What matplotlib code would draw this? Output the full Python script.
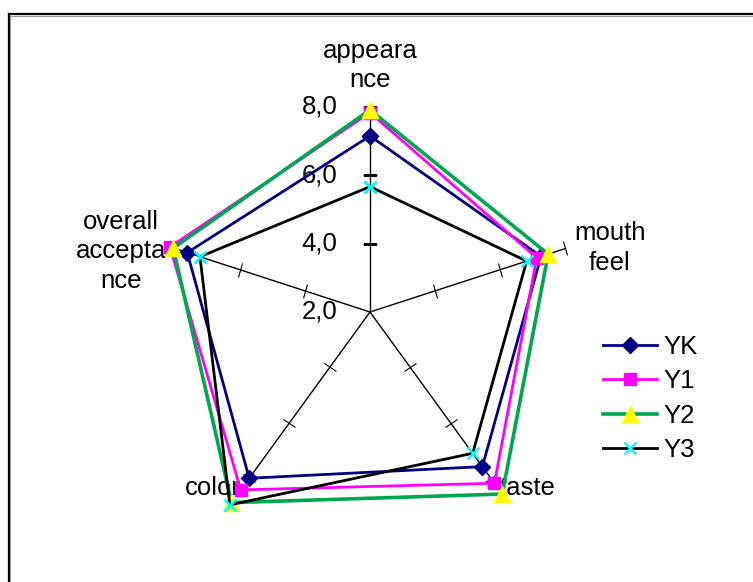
import numpy as np
import matplotlib
matplotlib.use("Agg")
import matplotlib.pyplot as plt
from matplotlib.markers import MarkerStyle
from matplotlib.transforms import Affine2D
from matplotlib.lines import Line2D

plt.rcParams['font.family'] = ['Liberation Sans', 'DejaVu Sans']

categories = ["appeara\nnce", "mouth\nfeel", "taste", "color", "overall\naccepta\nnce"]
series_names = ["YK", "Y1", "Y2", "Y3"]
yk = [7.14, 7.25, 7.58, 8.00, 7.61]
y1 = [7.82, 7.12, 8.18, 8.42, 8.14]
y2 = [7.90, 7.47, 8.57, 8.88, 8.04]
y3 = [5.66, 6.81, 7.10, 8.96, 7.22]
tick_values = [2.0, 4.0, 6.0, 8.0]
tick_labels = ["2,0", "4,0", "6,0", "8,0"]

W, H = 753, 582
DPI = 100
fig = plt.figure(figsize=(W / DPI, H / DPI), dpi=DPI)

# geometry in pixels
cx, cy = 370, 312
px_per_unit = 34.25
rmin, rmax = 2.0, 9.5
R = (rmax - rmin) * px_per_unit
ax = fig.add_axes([(cx - R) / W, (H - cy - R) / H, 2 * R / W, 2 * R / H], projection='polar')
ax.set_theta_zero_location('N')
ax.set_theta_direction(-1)
ax.set_ylim(rmin, rmax)
ax.grid(False)
ax.set_xticks([])
ax.set_yticks([])
ax.spines['polar'].set_visible(False)
ax.patch.set_alpha(0)

n = len(categories)
angles = np.arange(n) * 2 * np.pi / n

# spokes with perpendicular ticks
for i, th in enumerate(angles):
    ax.plot([th, th], [tick_values[0], tick_values[-1]], color='black', lw=1.0, zorder=1)
    m = MarkerStyle('_', transform=Affine2D().rotate_deg(-np.degrees(th)))
    ax.plot([th] * (len(tick_values) - 1), tick_values[1:], linestyle='none',
            marker=m, markersize=10, markeredgecolor='black', markeredgewidth=0.8, zorder=1)

# value labels next to the first spoke
for v, lab in zip(tick_values, tick_labels):
    ax.annotate(lab, xy=(0, v), xytext=(-23.5, 0), textcoords='offset points',
                ha='right', va='center', fontsize=18.5, color='black')

# category labels
offsets = [(0, 29.5), (32, 0.5), (26.5, -7), (-26.5, -7), (-38.5, -2)]
for th, lab, off in zip(angles, categories, offsets):
    ax.annotate(lab, xy=(th, tick_values[-1]), xytext=off, textcoords='offset points',
                ha='center', va='center', fontsize=18.5, linespacing=1.3, color='black')

styles = [
    dict(color='#000080', marker='D', markersize=8, markerfacecolor='#000080', markeredgecolor='#000080'),
    dict(color='#FF00FF', marker='s', markersize=9, markerfacecolor='#FF00FF', markeredgecolor='#FF00FF'),
    dict(color='#00A650', marker='^', markersize=11, markerfacecolor='#FFFF00', markeredgecolor='#FFFF00'),
    dict(color='#000000', marker='x', markersize=9, markeredgecolor='#00FFFF', markeredgewidth=1.8),
]
handles = []
for name, vals, st in zip(series_names, [yk, y1, y2, y3], styles):
    th = np.append(angles, angles[0])
    vv = np.append(vals, vals[0])
    lw = 2.6 if name == 'Y2' else 2.0
    h, = ax.plot(th, vv, lw=lw, label=name, zorder=3, clip_on=False, **st)
    handles.append(h)

fig.legend(handles=handles, labels=series_names, loc='upper left',
           bbox_to_anchor=(603 / W, 1 - 335 / H), frameon=False, fontsize=18.5,
           handlelength=2.1, handletextpad=0.25, labelspacing=0.40, borderpad=0,
           borderaxespad=0)

# chart-area border (top and left visible)
bx, by = 8.5, 14
fig.add_artist(Line2D([bx / W, 1.0], [1 - by / H, 1 - by / H], color='black', lw=1.6,
                      transform=fig.transFigure))
fig.add_artist(Line2D([bx / W, bx / W], [1 - by / H, 0], color='black', lw=1.6,
                      transform=fig.transFigure))
fig.add_artist(Line2D([(bx + 1.8) / W, 1.0], [1 - (by + 1.8) / H, 1 - (by + 1.8) / H],
                      color='#999999', lw=0.8, transform=fig.transFigure))
fig.add_artist(Line2D([(bx + 1.8) / W, (bx + 1.8) / W], [1 - (by + 1.8) / H, 0],
                      color='#999999', lw=0.8, transform=fig.transFigure))

fig.savefig("out.png", dpi=DPI)
